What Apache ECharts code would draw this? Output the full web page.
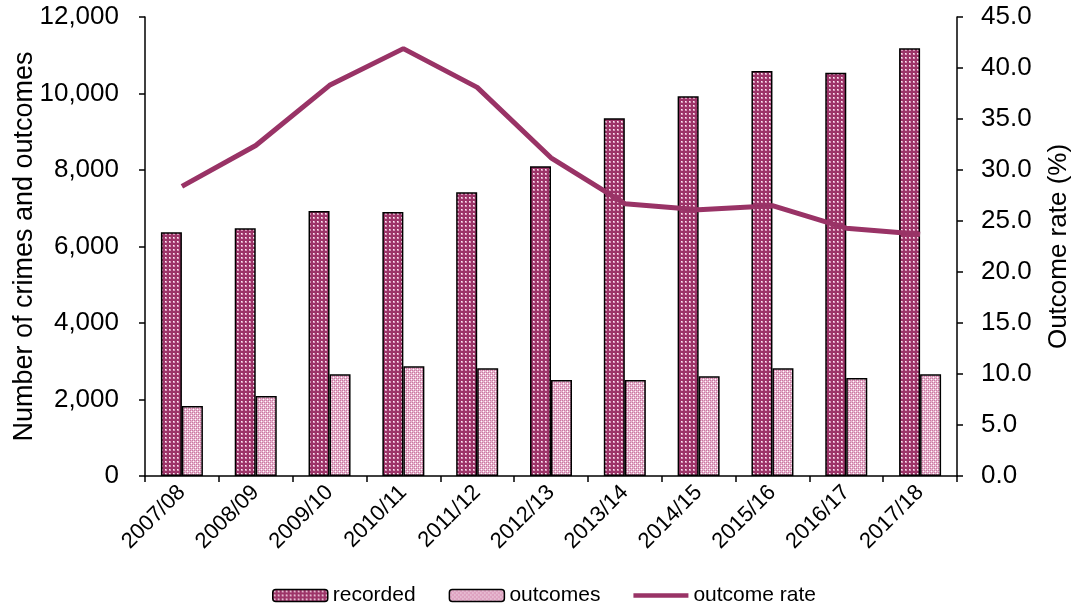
<!DOCTYPE html>
<html>
<head>
<meta charset="utf-8">
<script src="https://cdn.jsdelivr.net/npm/echarts@6/dist/echarts.min.js"></script>
<style>
html,body{margin:0;padding:0;background:#fff;}
#chart{width:1071px;height:607px;}
</style>
</head>
<body>
<div id="chart"></div>
<script>
const categories = ['2007/08','2008/09','2009/10','2010/11','2011/12','2012/13','2013/14','2014/15','2015/16','2016/17','2017/18'];
const recorded = [6370, 6480, 6930, 6900, 7420, 8100, 9350, 9930, 10590, 10540, 11180];
const outcomes = [1830, 2090, 2660, 2870, 2820, 2510, 2510, 2610, 2820, 2560, 2660];
const outcomeRate = [28.4, 32.4, 38.3, 41.9, 38.1, 31.2, 26.7, 26.1, 26.5, 24.3, 23.7];
const leftTicks = {min: 0, max: 12000, interval: 2000};
const rightTicks = {min: 0, max: 45, interval: 5};

function recTile() {
  const c = document.createElement('canvas');
  c.width = 4; c.height = 4;
  const g = c.getContext('2d');
  g.fillStyle = '#9c3468'; g.fillRect(0, 0, 4, 4);
  g.fillStyle = '#d99abb'; g.fillRect(1, 1, 2, 2);
  g.fillStyle = '#fbeef5'; g.fillRect(1, 1, 1, 1);
  return c;
}
function outTile() {
  const c = document.createElement('canvas');
  c.width = 4; c.height = 4;
  const g = c.getContext('2d');
  g.fillStyle = '#e6b1cc'; g.fillRect(0, 0, 4, 4);
  g.fillStyle = '#c97aa2';
  g.fillRect(0, 0, 1, 1); g.fillRect(2, 0, 1, 1); g.fillRect(0, 2, 1, 1); g.fillRect(2, 2, 1, 1);
  g.fillStyle = '#ffffff';
  g.fillRect(1, 1, 1, 1); g.fillRect(3, 3, 1, 1);
  return c;
}
const recPattern = recTile();
const outPattern = outTile();

const font = 'Liberation Sans, Arial, sans-serif';
const lineColor = '#993366';
const chart = echarts.init(document.getElementById('chart'), null, {renderer: 'canvas'});
chart.setOption({
  backgroundColor: '#fff',
  animation: false,
  textStyle: {fontFamily: font, color: '#000'},
  grid: {left: 145, right: 114, top: 17, bottom: 131, containLabel: false, outerBoundsMode: 'none'},
  legend: {
    top: 580, left: 267,
    itemWidth: 55, itemHeight: 12, itemGap: 33,
    textStyle: {fontFamily: font, fontSize: 21, color: '#000'},
    data: [
      {name: 'recorded', itemStyle: {color: {image: recPattern, repeat: 'repeat'}, borderColor: '#000', borderWidth: 1.5}},
      {name: 'outcomes', itemStyle: {color: {image: outPattern, repeat: 'repeat'}, borderColor: '#000', borderWidth: 1.5}},
      {name: 'outcome rate', icon: 'path://M0,0H64V5H0Z'}
    ]
  },
  xAxis: {
    type: 'category', data: categories,
    axisLine: {lineStyle: {color: '#000', width: 1.5}},
    axisTick: {show: true, alignWithLabel: false, length: 6, lineStyle: {color: '#000', width: 1.5}},
    axisLabel: {rotate: 45, fontSize: 22, color: '#000', fontFamily: font, margin: 13, interval: 0},
    splitLine: {show: false}
  },
  yAxis: [
    {
      type: 'value', min: leftTicks.min, max: leftTicks.max, interval: leftTicks.interval,
      name: 'Number of crimes and outcomes', nameLocation: 'middle', nameGap: 107, nameMoveOverlap: false,
      nameTextStyle: {fontSize: 27, color: '#000', fontFamily: font},
      axisLine: {show: true, lineStyle: {color: '#000', width: 1.5}},
      axisTick: {show: true, length: 6, lineStyle: {color: '#000', width: 1.5}},
      axisLabel: {fontSize: 26, color: '#000', fontFamily: font, margin: 26,
        formatter: v => v.toLocaleString('en-US')},
      splitLine: {show: false}
    },
    {
      type: 'value', min: rightTicks.min, max: rightTicks.max, interval: rightTicks.interval,
      name: 'Outcome rate (%)', nameLocation: 'middle', nameGap: 89, nameMoveOverlap: false,
      nameTextStyle: {fontSize: 26, color: '#000', fontFamily: font},
      axisLine: {show: true, lineStyle: {color: '#000', width: 1.5}},
      axisTick: {show: true, length: 6, lineStyle: {color: '#000', width: 1.5}},
      axisLabel: {fontSize: 26, color: '#000', fontFamily: font, margin: 24,
        formatter: v => v.toFixed(1)},
      splitLine: {show: false}
    }
  ],
  series: [
    {
      name: 'recorded', type: 'bar', data: recorded, yAxisIndex: 0,
      barWidth: 21, barGap: '0%',
      itemStyle: {color: {image: recPattern, repeat: 'repeat'}, borderColor: '#000', borderWidth: 1.5}
    },
    {
      name: 'outcomes', type: 'bar', data: outcomes, yAxisIndex: 0,
      barWidth: 21, barGap: '0%',
      itemStyle: {color: {image: outPattern, repeat: 'repeat'}, borderColor: '#000', borderWidth: 1.5}
    },
    {
      name: 'outcome rate', type: 'line', data: outcomeRate, yAxisIndex: 1,
      symbol: 'none', smooth: false,
      lineStyle: {color: lineColor, width: 5},
      itemStyle: {color: lineColor}
    }
  ]
});
</script>
</body>
</html>
